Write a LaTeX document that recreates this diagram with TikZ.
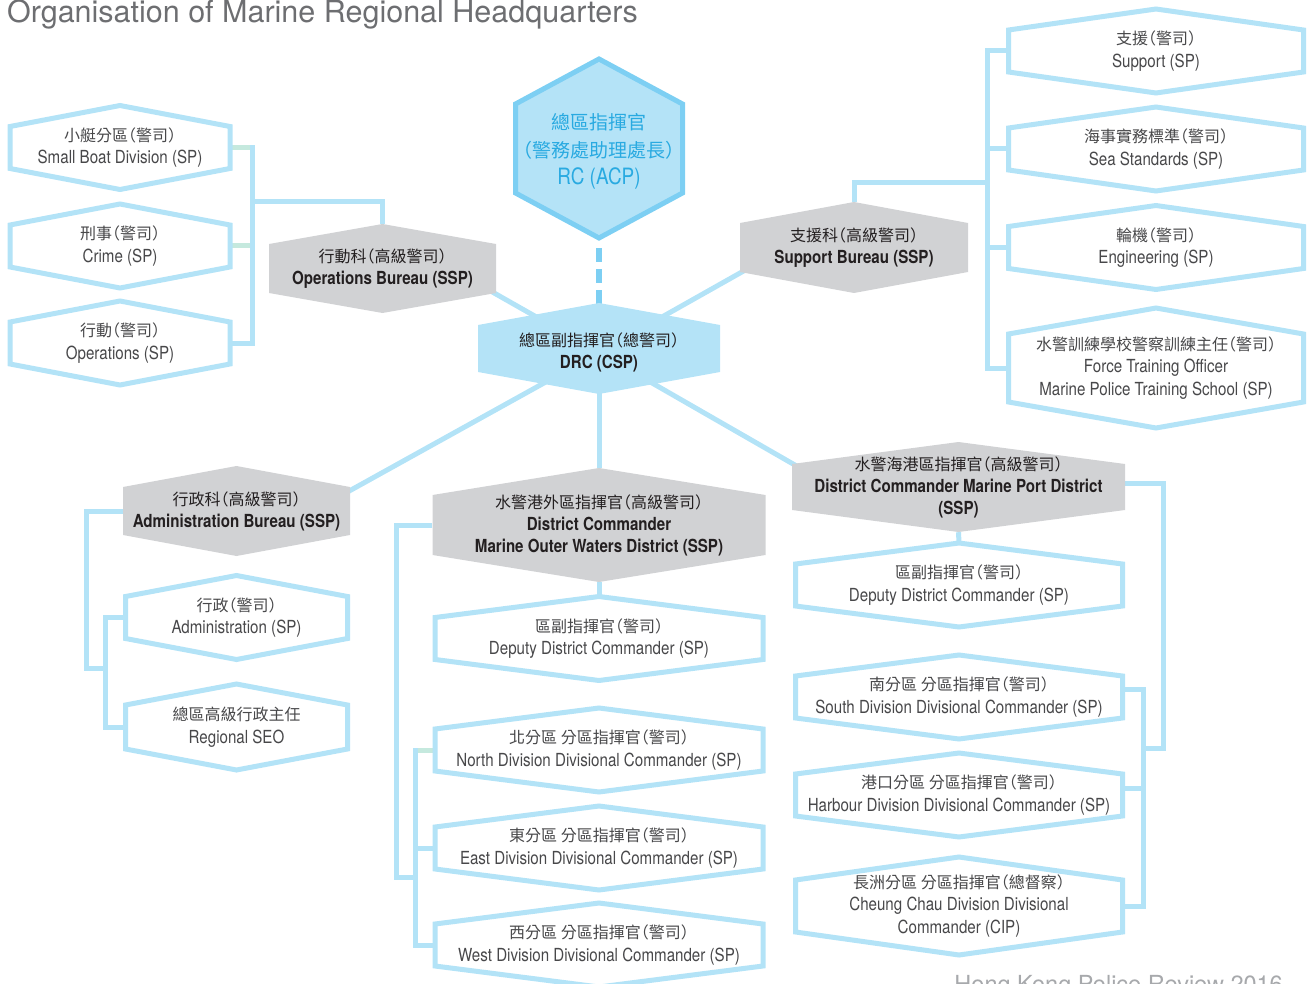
\documentclass[tikz,border=0pt]{standalone}
\usepackage{fontspec}
\setmainfont{TeX Gyre Heros}[FakeStretch=0.84]
\newfontfamily\titlefont{TeX Gyre Heros}
\newfontfamily\cjk{Noto Sans CJK TC}[RawFeature=+halt]
\usetikzlibrary{calc}

\definecolor{lineblue}{RGB}{179,227,247}
\definecolor{mintline}{RGB}{197,233,222}
\definecolor{rcstroke}{RGB}{125,207,243}
\definecolor{rcfill}{RGB}{180,227,247}
\definecolor{rctext}{RGB}{41,170,225}
\definecolor{bureaugrey}{RGB}{209,210,212}
\definecolor{inkdark}{RGB}{35,31,32}
\definecolor{inkgrey}{RGB}{72,72,74}
\definecolor{titlegrey}{RGB}{109,110,113}
\definecolor{footgrey}{RGB}{167,169,172}

% Chinese lines inside the boxes
\newcommand\zh[1]{{\cjk\mdseries\fontsize{16}{22.5}\selectfont #1}}
\newcommand\zhbig[1]{{\cjk\mdseries\fontsize{19}{26}\selectfont #1}}

\pgfdeclarelayer{bg}
\pgfsetlayers{bg,main}

% elongated hexagon with a named node over it
% #1 look, #2 name, #3 cx, #4 cy, #5 half width, #6 half height, #7 corner drop, #8 text
\newcommand\hexbox[8]{%
  \path[#1] ({#3},{#4-#6}) -- ({#3-#5},{#4-#6+#7}) -- ({#3-#5},{#4+#6-#7})
    -- ({#3},{#4+#6}) -- ({#3+#5},{#4+#6-#7}) -- ({#3+#5},{#4-#6+#7}) -- cycle;
  \node[#1 label, minimum width={2*#5pt}, minimum height={2*#6pt}] (#2) at ({#3},{#4}) {#8};
}

\tikzset{
  base label/.style={shape=rectangle, inner sep=0pt, align=center,
    font=\fontsize{18}{22.5}\selectfont},
  paleframe/.style={draw=lineblue, line width=5pt, fill=white},
  paleframe label/.style={base label, text=inkgrey},
  bureau/.style={fill=bureaugrey},
  bureau label/.style={base label, text=inkdark, font=\fontsize{18}{22}\selectfont\bfseries},
  chief/.style={draw=rcstroke, line width=5pt, fill=rcfill},
  chief label/.style={base label, text=rctext, yshift=-3pt, font=\fontsize{22.5}{27.5}\selectfont},
  deputy/.style={fill=rcfill},
  deputy label/.style={base label, text=inkdark, yshift=-4pt, font=\fontsize{18}{22}\selectfont\bfseries},
  link/.style={draw=lineblue, line width=5pt},
  mintlink/.style={draw=mintline, line width=5pt},
  dashlink/.style={draw=rcstroke, line width=6pt, dash pattern=on 14pt off 7pt, dash phase=14pt},
}

\begin{document}
\begin{tikzpicture}[x=1pt, y=-1pt]
\useasboundingbox (0,0) rectangle (1314,984);
\clip (0,0) rectangle (1314,984);

% heading and footer
\node[anchor=base west, inner sep=0pt, text=titlegrey, font=\titlefont\fontsize{30.5}{32}\selectfont]
  (title) at (7,22.5) {Organisation of Marine Regional Headquarters};
\node[anchor=base east, inner sep=0pt, text=footgrey, font=\titlefont\fontsize{23.5}{25}\selectfont]
  (footer) at (1283,992) {Hong Kong Police Review 2016};

% top of the tree
\hexbox{chief}{rc}{599}{148.5}{83.5}{89.5}{45}{\zhbig{總區指揮官}\\\zhbig{（警務處助理處長）}\\RC (ACP)}
\hexbox{deputy}{drc}{599}{348.5}{121}{45.5}{22}{\zh{總區副指揮官（總警司）}\\DRC (CSP)}

% Operations Bureau and its units
\hexbox{bureau}{opsb}{382.5}{268.5}{113.5}{44.5}{20}{\zh{行動科（高級警司）}\\Operations Bureau (SSP)}
\hexbox{paleframe}{smallboat}{120}{147.5}{110}{42}{21}{\zh{小艇分區（警司）}\\Small Boat Division (SP)}
\hexbox{paleframe}{crime}{120}{246}{110}{42}{21}{\zh{刑事（警司）}\\Crime (SP)}
\hexbox{paleframe}{opsunit}{120}{343}{110}{42}{21}{\zh{行動（警司）}\\Operations (SP)}

% Support Bureau and its units
\hexbox{bureau}{supb}{854}{247.5}{114}{45.5}{21}{\zh{支援科（高級警司）}\\Support Bureau (SSP)}
\hexbox{paleframe}{supunit}{1156}{51}{147.5}{42}{21}{\zh{支援（警司）}\\Support (SP)}
\hexbox{paleframe}{seastd}{1156}{149}{147.5}{42}{21}{\zh{海事實務標準（警司）}\\Sea Standards (SP)}
\hexbox{paleframe}{engin}{1156}{247.5}{147.5}{42}{21}{\zh{輪機（警司）}\\Engineering (SP)}
\hexbox{paleframe}{fto}{1156}{368}{147.5}{60}{26}{\zh{水警訓練學校警察訓練主任（警司）}\\Force Training Officer\\Marine Police Training School (SP)}

% Administration Bureau and its units
\hexbox{bureau}{admb}{236.5}{511}{113.5}{45}{21}{\zh{行政科（高級警司）}\\Administration Bureau (SSP)}
\hexbox{paleframe}{adminunit}{236.5}{617.5}{111}{42}{21}{\zh{行政（警司）}\\Administration (SP)}
\hexbox{paleframe}{seo}{236.5}{727}{111}{43}{21}{\zh{總區高級行政主任}\\Regional SEO}

% Marine Outer Waters District
\hexbox{bureau}{outerw}{599}{525}{166.5}{57}{27}{\zh{水警港外區指揮官（高級警司）}\\District Commander\\Marine Outer Waters District (SSP)}
\hexbox{paleframe}{outdep}{599}{638.5}{164}{42}{21}{\zh{區副指揮官（警司）}\\Deputy District Commander (SP)}
\hexbox{paleframe}{northdiv}{599}{750}{164}{42}{21}{\zh{北分區 分區指揮官（警司）}\\North Division Divisional Commander (SP)}
\hexbox{paleframe}{eastdiv}{599}{848}{164}{42}{21}{\zh{東分區 分區指揮官（警司）}\\East Division Divisional Commander (SP)}
\hexbox{paleframe}{westdiv}{599}{945}{164}{42}{21}{\zh{西分區 分區指揮官（警司）}\\West Division Divisional Commander (SP)}

% Marine Port District
\hexbox{bureau}{portd}{958.5}{487}{166.5}{45}{22}{\zh{水警海港區指揮官（高級警司）}\\District Commander Marine Port District\\(SSP)}
\hexbox{paleframe}{portdep}{959}{585}{163.5}{42}{21}{\zh{區副指揮官（警司）}\\Deputy District Commander (SP)}
\hexbox{paleframe}{southdiv}{959}{697}{163.5}{42}{21}{\zh{南分區 分區指揮官（警司）}\\South Division Divisional Commander (SP)}
\hexbox{paleframe}{harbourdiv}{959}{795}{163.5}{42}{21}{\zh{港口分區 分區指揮官（警司）}\\Harbour Division Divisional Commander (SP)}
\hexbox{paleframe}{cchaudiv}{959}{906}{163.5}{49}{23}{\zh{長洲分區 分區指揮官（總督察）}\\Cheung Chau Division Divisional\\Commander (CIP)}

% connectors, kept behind the boxes
\begin{pgfonlayer}{bg}
  \draw[dashlink] (rc.south) -- (drc.north);

  \coordinate (opstip) at ($(opsb.east)+(-10,20)$);
  \coordinate (suptip) at ($(supb.west)+(10,20)$);
  \coordinate (admtip) at ($(admb.east)+(-10,-15)$);
  \coordinate (porttip) at ($(portd.west)+(10,-18)$);
  \draw[link] (drc.center) -- (opstip);
  \draw[link] (drc.center) -- (suptip);
  \draw[link] (drc.center) -- (admtip);
  \draw[link] (drc.center) -- (porttip);
  \draw[link] (drc.center) -- (outerw.north);

  % Operations Bureau bus
  \coordinate (opsbus) at (252,202);
  \draw[link] (opsb.north) |- (opsbus);
  \draw[link] (smallboat.east) -| (opsbus) |- (opsunit.east);
  \draw[link] (crime.east) -- (crime.east -| opsbus);
  \draw[mintlink] (smallboat.east) -- ($(smallboat.east -| opsbus)+(-2.5,0)$);
  \draw[mintlink] (crime.east) -- ($(crime.east -| opsbus)+(-2.5,0)$);

  % Support Bureau bus
  \coordinate (supbus) at (987,183);
  \draw[link] (supb.north) |- (supbus);
  \draw[link] (supunit.west) -| (supbus) |- (fto.west);
  \draw[link] (seastd.west) -- (seastd.west -| supbus);
  \draw[link] (engin.west) -- (engin.west -| supbus);

  % Administration Bureau bus
  \coordinate (admouter) at (86,668);
  \coordinate (adminner) at (105,668);
  \draw[link] (admb.west) -| (admouter) -- (adminner);
  \draw[link] (adminunit.west) -| (adminner) |- (seo.west);

  % Outer Waters bus
  \coordinate (outbus) at (396,877);
  \coordinate (outinner) at (415,877);
  \draw[link] (outerw.west) -| (outbus) -- (outinner);
  \draw[link] (outerw.south) -- (outdep.north);
  \draw[link] (northdiv.west) -| (outinner) |- (westdiv.west);
  \draw[link] (eastdiv.west) -- (eastdiv.west -| outinner);
  \draw[mintlink] (northdiv.west) -- ($(northdiv.west -| outinner)+(2.5,0)$);

  % Port District bus
  \coordinate (portbus) at (1163,748);
  \coordinate (portinner) at (1143,748);
  \draw[link] ($(portd.east)+(0,-4)$) -| (portbus) -- (portinner);
  \draw[link] (portd.south) -- (portdep.north);
  \draw[link] ($(southdiv.east)+(0,-8)$) -| (portinner) |- (cchaudiv.east);
  \draw[link] ($(harbourdiv.east)+(0,-7)$) -- ($(harbourdiv.east -| portinner)+(0,-7)$);
\end{pgfonlayer}
\end{tikzpicture}
\end{document}
